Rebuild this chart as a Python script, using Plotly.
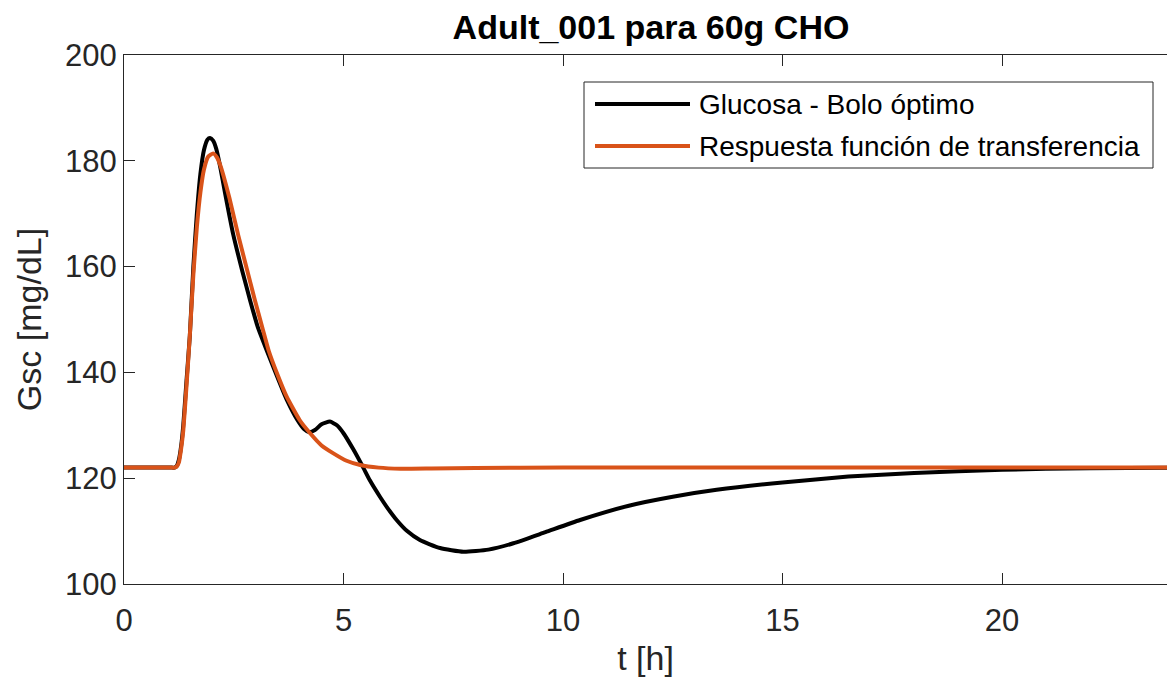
import plotly.graph_objects as go

# ---- data ----
t_glucosa = [0, 0.5, 1.0, 1.1, 1.15, 1.2, 1.25, 1.3, 1.35, 1.42, 1.5, 1.58, 1.66, 1.74, 1.82, 1.9,
             1.96, 2.03, 2.1, 2.2, 2.3, 2.49, 2.7, 2.87, 3.05, 3.25, 3.5, 3.71, 3.95, 4.1, 4.22,
             4.35, 4.5, 4.69, 4.85, 5.0, 5.22, 5.45, 5.6, 5.83, 6.0, 6.21, 6.45, 6.74, 7.2, 7.73,
             8.3, 8.87, 9.6, 10.39, 11.5, 12.5, 13.5, 15, 16.5, 18, 20, 22, 24]
g_glucosa = [122, 122, 122, 122, 122, 122.3, 123.5, 126, 130, 138, 147, 160, 170, 177.5, 182, 184,
             184.3, 183.8, 182.3, 178.5, 174, 166, 159, 153.7, 148.5, 144.2, 139, 134.8, 131, 129.3, 128.7,
             129.1, 130.2, 130.7, 130.0, 128.5, 125.5, 122, 119.6, 116.5, 114.4, 112.1, 110.0, 108.3,
             106.8, 106.1, 106.5, 107.7, 109.8, 112.1, 114.8, 116.5, 117.8, 119.2, 120.3, 121.0,
             121.6, 121.9, 122]

t_ft = [0, 0.5, 1.0, 1.1, 1.15, 1.2, 1.25, 1.3, 1.35, 1.42, 1.5, 1.58, 1.66, 1.74, 1.82, 1.92,
        2.03, 2.12, 2.2, 2.4, 2.6, 2.8, 2.98, 3.15, 3.3, 3.5, 3.7, 4.0, 4.24, 4.5, 4.77, 5.07,
        5.38, 5.8, 6.3, 7, 8, 10, 15, 24]
g_ft = [122, 122, 122, 122, 122, 122.2, 123, 125.5, 129, 137, 147, 158.5, 167.5, 174, 178.3, 180.8,
        181.4, 180.6, 179, 173, 166, 159.5, 153.7, 148.5, 144, 139.5, 135.5, 131, 128.5, 126.2,
        124.7, 123.3, 122.5, 122.0, 121.8, 121.85, 121.95, 122, 122, 122]

series_names = ["Glucosa - Bolo óptimo", "Respuesta función de transferencia"]
title_text = "Adult_001 para 60g CHO"
x_label = "t [h]"
y_label = "Gsc [mg/dL]"
x_ticks = [0, 5, 10, 15, 20]
y_ticks = [100, 120, 140, 160, 180, 200]

# ---- style ----
W, H = 1167, 678
L, R, T, B = 124, 0, 55, 94
PW, PH = W - L - R, H - T - B
AX = "#262626"
FONT = "Liberation Sans, Arial, Helvetica, sans-serif"
colors = ["#000000", "#D95319"]
x_max = PW / 43.9


def px(x):
    return (x - L) / PW


def py(y):
    return (H - B - y) / PH


fig = go.Figure()
for t, g, name, c in zip([t_glucosa, t_ft], [g_glucosa, g_ft], series_names, colors):
    fig.add_trace(go.Scatter(x=t, y=g, mode="lines", name=name,
                             line=dict(color=c, width=4, shape="spline", smoothing=0.5),
                             showlegend=False))

# manual legend (MATLAB style)
shapes = [dict(type="rect", xref="paper", yref="paper", x0=px(584), x1=px(1153), y0=py(168), y1=py(82),
               line=dict(color=AX, width=1), fillcolor="white", layer="above")]
annotations = []
for i, (name, c) in enumerate(zip(series_names, colors)):
    yy = 104 + 42 * i
    shapes.append(dict(type="line", xref="paper", yref="paper", x0=px(595), x1=px(690),
                       y0=py(yy), y1=py(yy), line=dict(color=c, width=4), layer="above"))
    annotations.append(dict(xref="paper", yref="paper", x=px(697), y=py(yy), text=name,
                            showarrow=False, xanchor="left", yanchor="middle",
                            font=dict(size=28, color="#000000", family=FONT)))

fig.update_layout(
    width=W, height=H, margin=dict(l=L, r=R, t=T, b=B),
    paper_bgcolor="white", plot_bgcolor="white",
    font=dict(family=FONT, color=AX, size=31),
    title=dict(text="<b>" + title_text + "</b>", x=px(651), xref="paper", xanchor="center",
               y=1 - 27 / H, yanchor="middle", font=dict(size=34, color="#000000", family=FONT)),
    shapes=shapes, annotations=annotations,
    xaxis=dict(range=[0, x_max], tickvals=x_ticks, ticks="inside", ticklen=11, tickcolor=AX,
               showline=True, linecolor=AX, linewidth=1, mirror="ticks", showgrid=False,
               zeroline=False, tickfont=dict(size=31, color=AX), ticklabelstandoff=9,
               title=dict(text=x_label, font=dict(size=34, color=AX), standoff=8)),
    yaxis=dict(range=[100, 200], tickvals=y_ticks, ticks="inside", ticklen=11, tickcolor=AX,
               showline=True, linecolor=AX, linewidth=1, mirror=False, showgrid=False,
               zeroline=False, tickfont=dict(size=31, color=AX),
               title=dict(text=y_label, font=dict(size=34, color=AX), standoff=13)),
)

fig.write_html("out.html")
